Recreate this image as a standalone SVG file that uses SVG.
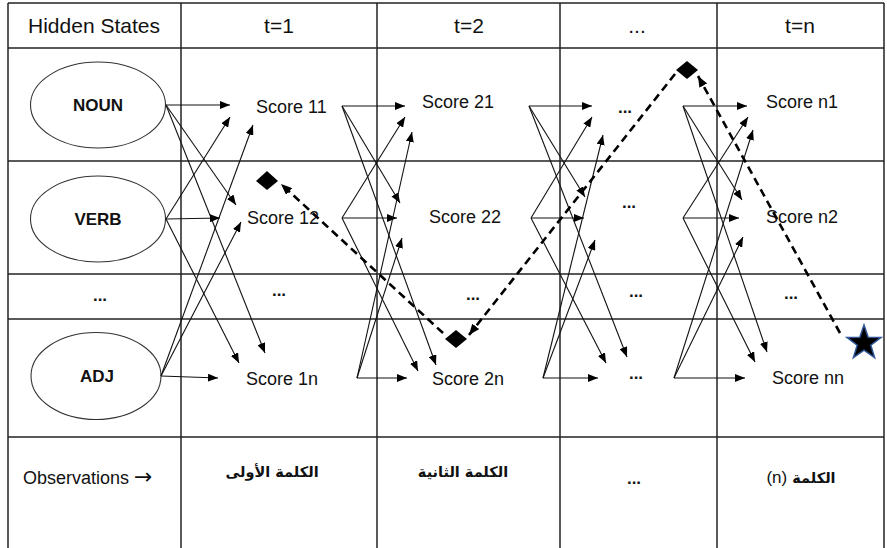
<svg xmlns="http://www.w3.org/2000/svg" width="887" height="548" viewBox="0 0 887 548">
<defs>
<style>
.grid line{stroke:#222;stroke-width:1.5}
.st{fill:#fff;stroke:#333;stroke-width:1.1}
.t{font-family:"Liberation Sans",Arial,sans-serif;fill:#111}
.hd{font-size:21px}
.sc{font-size:18px}
.sn{font-size:17px;font-weight:bold}
.dt{font-size:17px;font-weight:bold}
.ar{font-family:"DejaVu Sans",sans-serif;font-size:14.5px;font-weight:bold;fill:#111}
.c line{stroke:#111;stroke-width:1.1;marker-end:url(#ah)}
.d line{stroke:#000;stroke-width:2.6;stroke-dasharray:8 5;marker-end:url(#dh)}
</style>
<marker id="ah" markerUnits="userSpaceOnUse" markerWidth="10" markerHeight="8" refX="10" refY="4" orient="auto"><path d="M0,0 L10,4 L0,8 z" fill="#000"/></marker>
<marker id="dh" markerUnits="userSpaceOnUse" markerWidth="11" markerHeight="9" refX="11" refY="4.5" orient="auto"><path d="M0,0 L11,4.5 L0,9 z" fill="#000"/></marker>
</defs>
<rect width="887" height="548" fill="#fff"/>
<g id="grid" class="grid">
<line x1="8" y1="3" x2="884" y2="3"/>
<line x1="8" y1="48" x2="884" y2="48"/>
<line x1="8" y1="161" x2="884" y2="161"/>
<line x1="8" y1="274" x2="884" y2="274"/>
<line x1="8" y1="319" x2="884" y2="319"/>
<line x1="8" y1="437" x2="884" y2="437"/>
<line x1="8" y1="3" x2="8" y2="548"/>
<line x1="181" y1="3" x2="181" y2="548"/>
<line x1="377" y1="3" x2="377" y2="548"/>
<line x1="560" y1="3" x2="560" y2="548"/>
<line x1="717" y1="3" x2="717" y2="548"/>
<line x1="884" y1="3" x2="884" y2="548"/>
</g>
<g id="headers">
<text class="t hd" x="94" y="33" text-anchor="middle">Hidden States</text>
<text class="t hd" x="279" y="33" text-anchor="middle">t=1</text>
<text class="t hd" x="469" y="33" text-anchor="middle">t=2</text>
<text class="t hd" x="637" y="33" text-anchor="middle">...</text>
<text class="t hd" x="800" y="33" text-anchor="middle">t=n</text>
</g>
<g id="noun"><ellipse class="st" cx="98" cy="105" rx="67.5" ry="43"/><text class="t sn" x="98" y="111" text-anchor="middle">NOUN</text></g>
<g id="verb"><ellipse class="st" cx="98" cy="219" rx="67.5" ry="43"/><text class="t sn" x="98" y="225" text-anchor="middle">VERB</text></g>
<g id="states-dots"><text class="t dt" x="100" y="301" text-anchor="middle">...</text></g>
<g id="adj"><ellipse class="st" cx="96" cy="376" rx="65" ry="43.5"/><text class="t sn" x="97" y="382" text-anchor="middle">ADJ</text></g>
<g id="score11"><text class="t sc" x="256" y="113">Score 11</text></g>
<g id="score12"><text class="t sc" x="247" y="224">Score 12</text></g>
<g id="dots1"><text class="t dt" x="279" y="296" text-anchor="middle">...</text></g>
<g id="score1n"><text class="t sc" x="246" y="385">Score 1n</text></g>
<g id="score21"><text class="t sc" x="422" y="108">Score 21</text></g>
<g id="score22"><text class="t sc" x="429" y="223">Score 22</text></g>
<g id="dots2"><text class="t dt" x="473" y="300" text-anchor="middle">...</text></g>
<g id="score2n"><text class="t sc" x="432" y="385">Score 2n</text></g>
<g id="col3-1"><text class="t dt" x="625" y="113" text-anchor="middle">...</text></g>
<g id="col3-2"><text class="t dt" x="629" y="208" text-anchor="middle">...</text></g>
<g id="col3-3"><text class="t dt" x="636" y="297" text-anchor="middle">...</text></g>
<g id="col3-n"><text class="t dt" x="636" y="379" text-anchor="middle">...</text></g>
<g id="scoren1"><text class="t sc" x="766" y="108">Score n1</text></g>
<g id="scoren2"><text class="t sc" x="766" y="223">Score n2</text></g>
<g id="dotsn"><text class="t dt" x="791" y="299" text-anchor="middle">...</text></g>
<g id="scorenn"><text class="t sc" x="772" y="384">Score nn</text></g>
<g id="observations">
<text class="t" x="23" y="484" font-size="18">Observations <tspan font-family="DejaVu Sans,sans-serif" font-size="22">→</tspan></text>
<text class="ar" x="272" y="477" text-anchor="middle">الكلمة الأولى</text>
<text class="ar" x="463" y="477" text-anchor="middle">الكلمة الثانية</text>
<text class="t dt" x="634" y="484" text-anchor="middle">...</text>
<text class="ar" x="801" y="483" text-anchor="middle"><tspan font-family="Liberation Sans,Arial,sans-serif" font-weight="normal" font-size="17">(n)</tspan> الكلمة</text>
</g>
<g id="connectors" class="c">
<line x1="166" y1="105" x2="230" y2="105"/>
<line x1="166" y1="105" x2="236" y2="205"/>
<line x1="166" y1="105" x2="265" y2="353"/>
<line x1="166" y1="219" x2="230" y2="117"/>
<line x1="166" y1="219" x2="220" y2="218"/>
<line x1="166" y1="219" x2="239" y2="363"/>
<line x1="161" y1="376" x2="253" y2="125"/>
<line x1="161" y1="376" x2="241" y2="222"/>
<line x1="161" y1="376" x2="218" y2="378"/>
<line x1="342" y1="106" x2="405" y2="106"/>
<line x1="342" y1="106" x2="400" y2="203"/>
<line x1="342" y1="106" x2="436" y2="365"/>
<line x1="342" y1="218" x2="405" y2="117"/>
<line x1="342" y1="218" x2="397" y2="218"/>
<line x1="342" y1="218" x2="418" y2="371"/>
<line x1="357" y1="378" x2="412" y2="132"/>
<line x1="357" y1="378" x2="402" y2="238"/>
<line x1="357" y1="378" x2="407" y2="378"/>
<line x1="529" y1="106" x2="592" y2="106"/>
<line x1="529" y1="106" x2="585" y2="197"/>
<line x1="529" y1="106" x2="627" y2="357"/>
<line x1="531" y1="218" x2="592" y2="117"/>
<line x1="531" y1="218" x2="584" y2="218"/>
<line x1="531" y1="218" x2="606" y2="363"/>
<line x1="543" y1="378" x2="603" y2="135"/>
<line x1="543" y1="378" x2="595" y2="240"/>
<line x1="543" y1="378" x2="598" y2="378"/>
<line x1="683" y1="106" x2="747" y2="106"/>
<line x1="683" y1="106" x2="742" y2="200"/>
<line x1="683" y1="106" x2="767" y2="352"/>
<line x1="683" y1="218" x2="748" y2="117"/>
<line x1="683" y1="218" x2="739" y2="218"/>
<line x1="683" y1="218" x2="755" y2="362"/>
<line x1="674" y1="378" x2="753" y2="130"/>
<line x1="674" y1="378" x2="743" y2="237"/>
<line x1="674" y1="378" x2="745" y2="378"/>
</g>
<g id="backtrace" class="d">
<line x1="840" y1="333" x2="698" y2="76"/>
<line x1="675" y1="74" x2="469" y2="335"/>
<line x1="443" y1="333" x2="281" y2="184"/>
</g>
<g id="diamond1"><polygon points="267,171 278,181 267,190 256,181" fill="#000"/></g>
<g id="diamond2"><polygon points="456,330 467,339 456,348 445,339" fill="#000"/></g>
<g id="diamondn"><polygon points="687,61 698,70 687,79 676,70" fill="#000"/></g>
<g id="star"><polygon points="864,325 868.2,337.2 881.1,337.4 870.8,345.2 874.6,357.6 864,350.2 853.4,357.6 857.2,345.2 846.9,337.4 859.8,337.2" fill="#000" stroke="#2F5597" stroke-width="1.5" stroke-linejoin="miter"/></g>
</svg>
